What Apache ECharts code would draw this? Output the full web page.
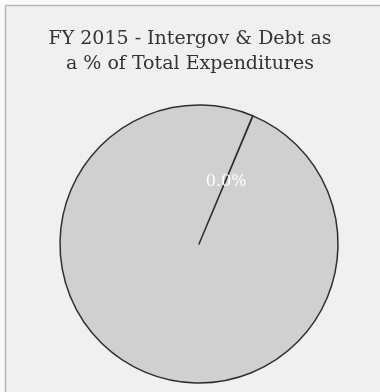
<!DOCTYPE html>
<html>
<head>
<meta charset="utf-8">
<script src="https://cdn.jsdelivr.net/npm/echarts@6/dist/echarts.min.js"></script>
<style>
  html, body { margin: 0; padding: 0; background: #fafafa; }
  #chart { width: 380px; height: 392px; }
</style>
</head>
<body>
<div id="chart"></div>
<script>
// Share of total expenditures (percent)
const categories = ["Intergov & Debt", "All Other Expenditures"];
const values = [0.04, 99.96];
const titleText = "FY 2015 - Intergov & Debt as\na % of Total Expenditures";

const chart = echarts.init(document.getElementById('chart'), null, { renderer: 'canvas' });

const pieData = categories.map((name, i) => ({
  name: name,
  value: values[i],
  label: { show: i === 0 }
}));

chart.setOption({
  animation: false,
  graphic: [{
    type: 'rect',
    z: -10,
    shape: { x: 5.5, y: 5.5, width: 400, height: 400 },
    style: { fill: '#f0f0f0', stroke: '#b8b8b8', lineWidth: 1.5 }
  }],
  title: {
    text: titleText,
    left: 'center',
    top: 22,
    textStyle: {
      fontFamily: 'DejaVu Serif',
      fontWeight: 'normal',
      fontSize: 19,
      lineHeight: 25,
      color: '#333333'
    }
  },
  series: [{
    type: 'pie',
    center: [199, 244],
    radius: [0, 139],
    startAngle: 67.3,
    clockwise: true,
    avoidLabelOverlap: false,
    minAngle: 0,
    itemStyle: { color: '#d0d0d0', borderColor: '#2e2e2e', borderWidth: 1.5 },
    emphasis: { disabled: true },
    label: {
      position: 'inside',
      offset: [-1, 5],
      color: '#ffffff',
      fontFamily: 'DejaVu Serif',
      fontSize: 16,
      formatter: p => p.percent.toFixed(1) + '%'
    },
    labelLine: { show: false },
    data: pieData
  }]
});
</script>
</body>
</html>
